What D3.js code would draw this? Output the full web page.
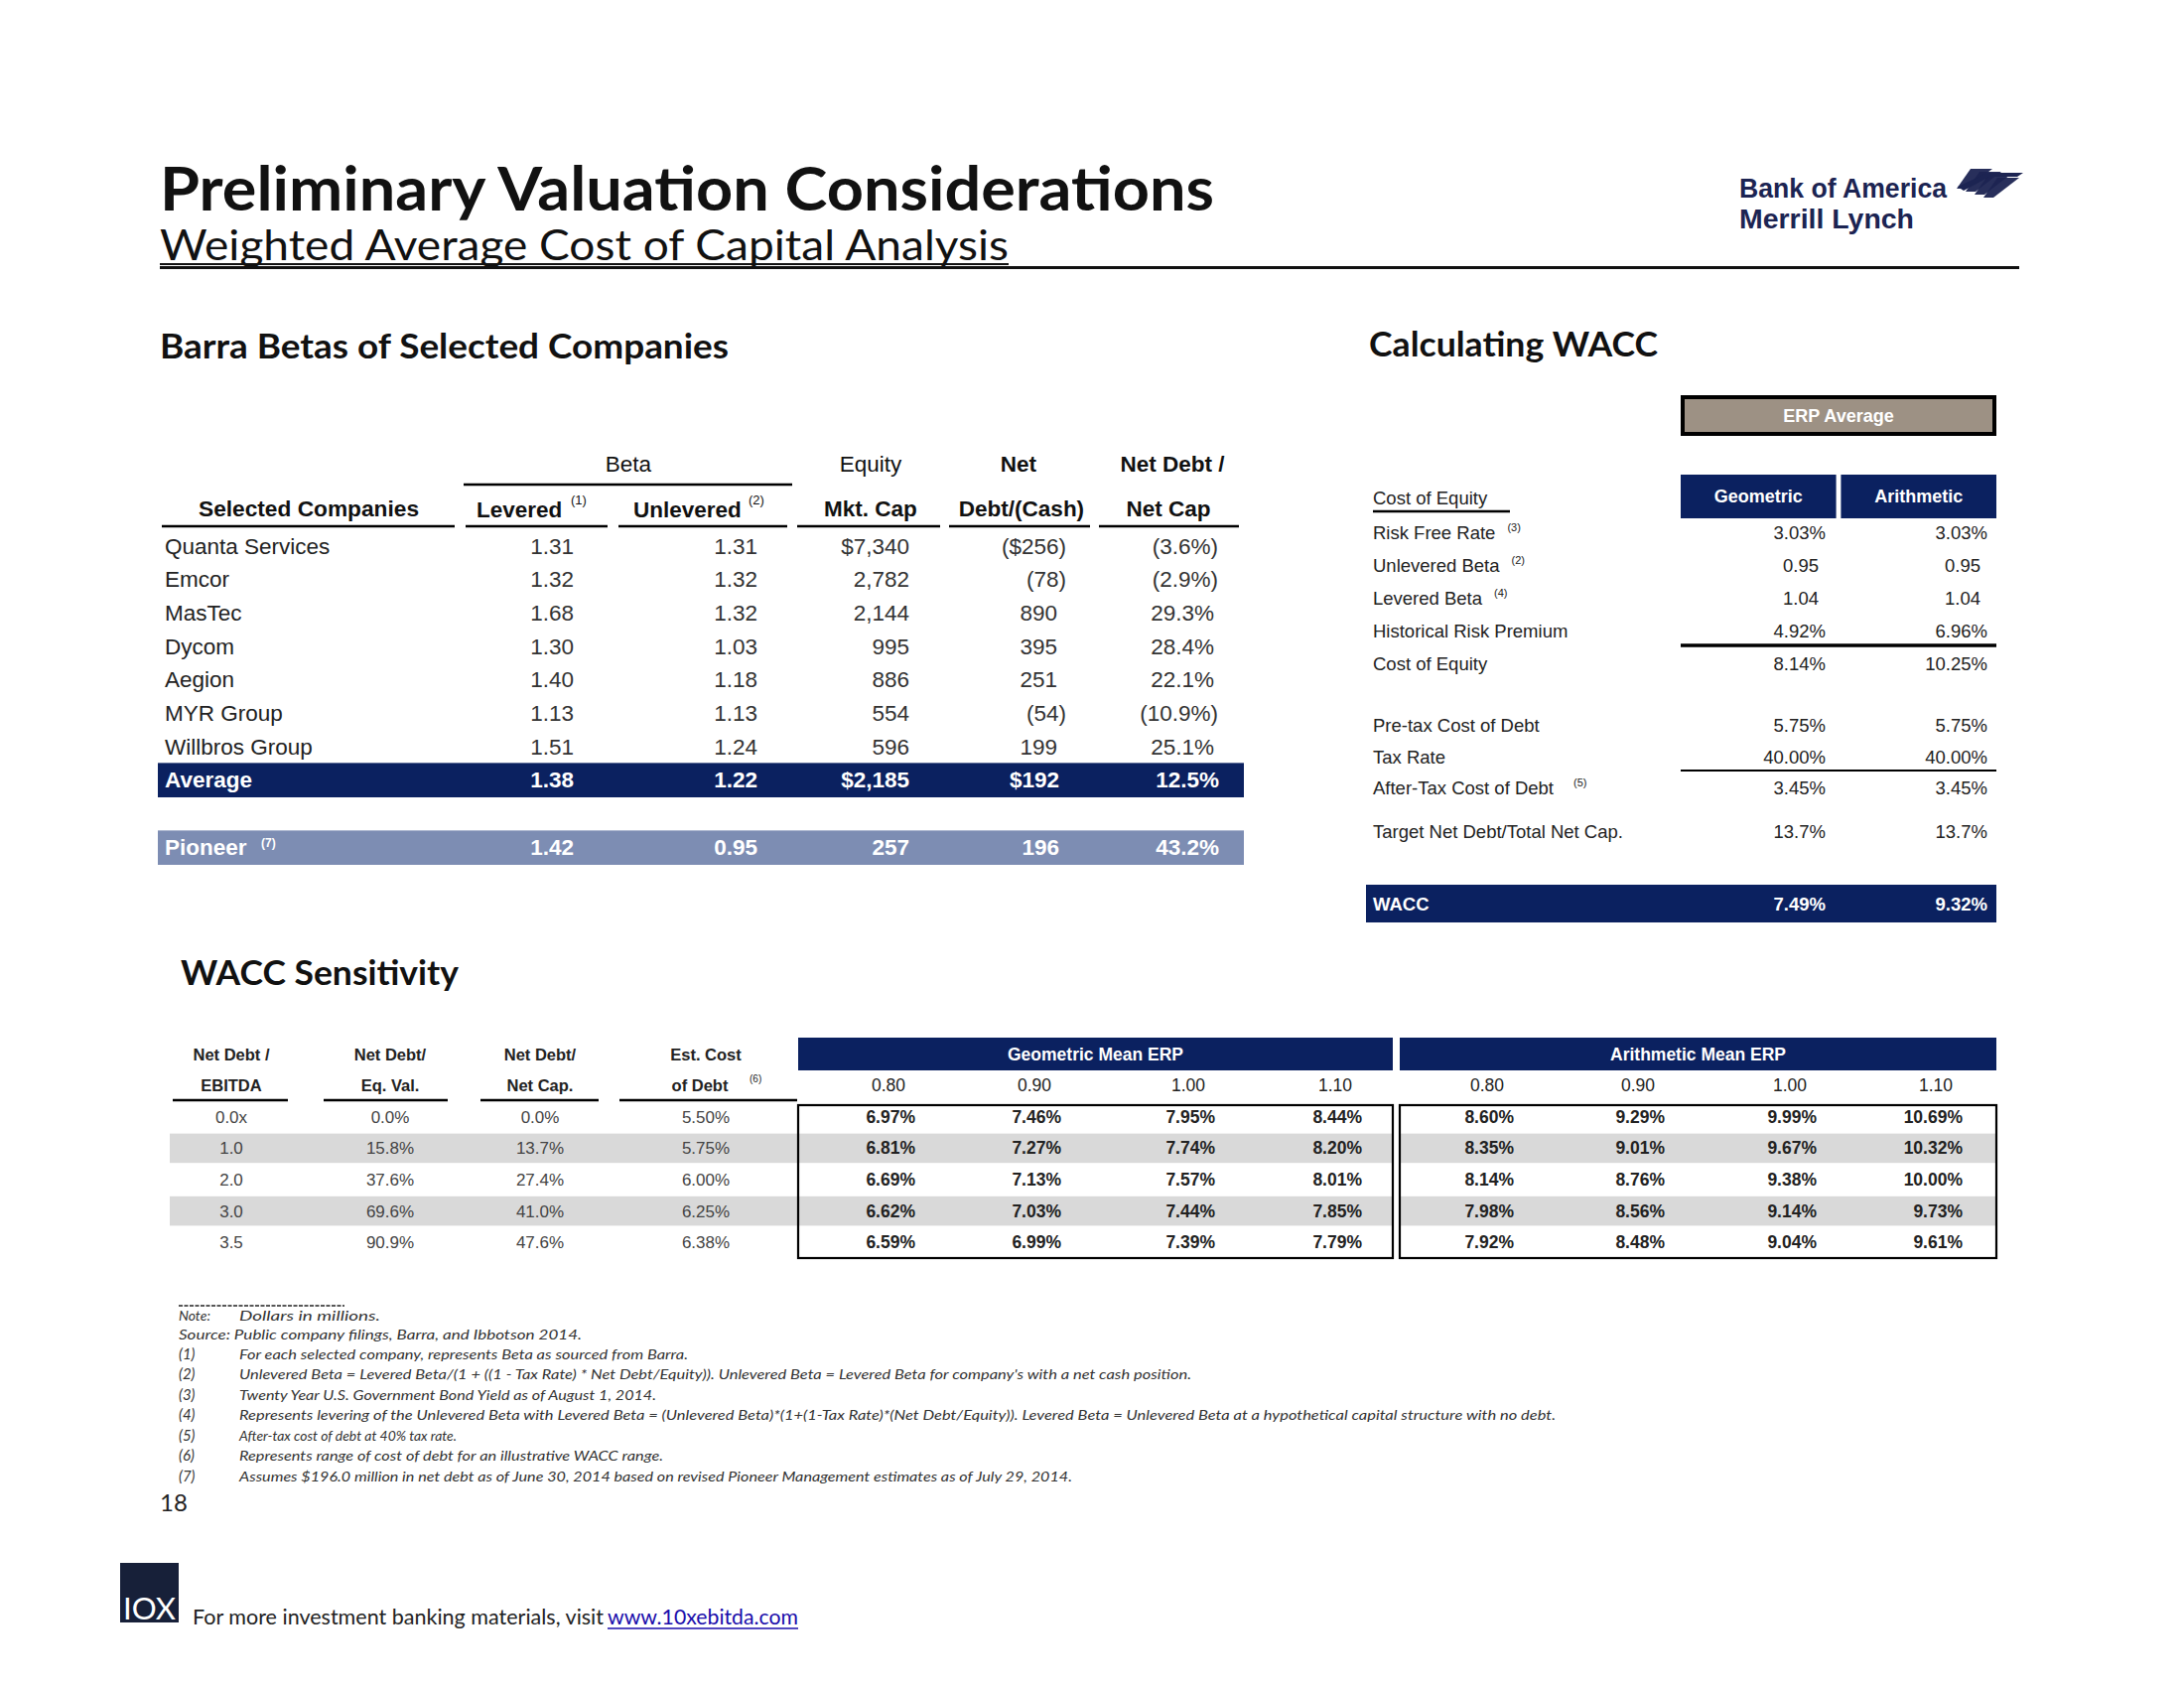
<!DOCTYPE html>
<html><head><meta charset="utf-8">
<script src="https://cdn.jsdelivr.net/npm/d3@7"></script>
<style>body{margin:0;background:#fff} svg{display:block}</style>
</head><body><svg id="c" width="2200" height="1700"></svg>
<script>
// ---------------- DATA ----------------
const companies = ["Quanta Services","Emcor","MasTec","Dycom","Aegion","MYR Group","Willbros Group"];
const leveredBeta = [1.31,1.32,1.68,1.30,1.40,1.13,1.51];
const unleveredBeta = [1.31,1.32,1.32,1.03,1.18,1.13,1.24];
const mktCap = [7340,2782,2144,995,886,554,596];
const netDebt = [-256,-78,890,395,251,-54,199];
const netDebtCap = [-3.6,-2.9,29.3,28.4,22.1,-10.9,25.1];
const averageRow = [1.38,1.22,2185,192,12.5];
const pioneerRow = [1.42,0.95,257,196,43.2];
const barraCols = ["levered","unlevered","mktCap","netDebt","netDebtCap"];

const waccLabels = ["Risk Free Rate","Unlevered Beta","Levered Beta","Historical Risk Premium","Cost of Equity","Pre-tax Cost of Debt","Tax Rate","After-Tax Cost of Debt","Target Net Debt/Total Net Cap."];
const waccNotes = ["(3)","(2)","(4)","","","","","(5)",""];
const geometricVals = [3.03,0.95,1.04,4.92,8.14,5.75,40.00,3.45,13.7];
const arithmeticVals = [3.03,0.95,1.04,6.96,10.25,5.75,40.00,3.45,13.7];
const waccFormats = ["pct2","beta","beta","pct2","pct2","pct2","pct2","pct2","pct1"];
const waccResult = [7.49,9.32];
const erpTypes = ["Geometric","Arithmetic"];

const ndEbitda = [0.0,1.0,2.0,3.0,3.5];
const ndEqVal = [0.0,15.8,37.6,69.6,90.9];
const ndNetCap = [0.0,13.7,27.4,41.0,47.6];
const costOfDebt = [5.50,5.75,6.00,6.25,6.38];
const betaSteps = [0.80,0.90,1.00,1.10];
const geoWacc = [[6.97,7.46,7.95,8.44],[6.81,7.27,7.74,8.20],[6.69,7.13,7.57,8.01],[6.62,7.03,7.44,7.85],[6.59,6.99,7.39,7.79]];
const ariWacc = [[8.60,9.29,9.99,10.69],[8.35,9.01,9.67,10.32],[8.14,8.76,9.38,10.00],[7.98,8.56,9.14,9.73],[7.92,8.48,9.04,9.61]];

const footnoteMarks = ["(1)","(2)","(3)","(4)","(5)","(6)","(7)"];
const footnotes = [
 "For each selected company, represents Beta as sourced from Barra.",
 "Unlevered Beta = Levered Beta/(1 + ((1 - Tax Rate) * Net Debt/Equity)).  Unlevered Beta = Levered Beta for company's with a net cash position.",
 "Twenty Year U.S. Government Bond Yield as of August 1, 2014.",
 "Represents levering of the Unlevered Beta with Levered Beta = (Unlevered Beta)*(1+(1-Tax Rate)*(Net Debt/Equity)).  Levered Beta = Unlevered Beta at a hypothetical capital structure with no debt.",
 "After-tax cost of debt at 40% tax rate.",
 "Represents range of cost of debt for an illustrative WACC range.",
 "Assumes $196.0 million in net debt as of June 30, 2014 based on revised Pioneer Management estimates as of July 29, 2014."
];

// ---------------- STYLE / LAYOUT ----------------
const NAVY = "#0b2160", SLATE = "#7d8db3", TAUPE = "#9d9184", GRAY = "#d9d9d9";
const ARIAL = "'Liberation Sans', Arial, sans-serif";
const CAL = "Lato, 'Open Sans', sans-serif";
const svg = d3.select("#c");

function txt(x, y, s, o = {}) {
  const t = svg.append("text").attr("x", x).attr("y", y).text(s)
    .attr("font-family", o.ff || ARIAL).attr("font-size", o.fs || 23)
    .attr("fill", o.fill || "#222").attr("font-weight", o.fw || 400)
    .attr("text-anchor", o.anchor || "start");
  if (o.it) t.attr("font-style", "italic");
  if (o.len) t.attr("textLength", o.len).attr("lengthAdjust", "spacingAndGlyphs");
  if (o.ls) t.attr("letter-spacing", o.ls);
  return t;
}
function line(x1, y1, x2, y2, w, c = "#000") {
  svg.append("line").attr("x1", x1).attr("y1", y1).attr("x2", x2).attr("y2", y2)
    .attr("stroke", c).attr("stroke-width", w);
}
function rect(x, y, w, h, fill, stroke, sw) {
  const r = svg.append("rect").attr("x", x).attr("y", y).attr("width", w).attr("height", h).attr("fill", fill);
  if (stroke) r.attr("stroke", stroke).attr("stroke-width", sw);
  return r;
}

// ---------------- HEADER ----------------
txt(161, 212, "Preliminary Valuation Considerations", {ff: CAL, fs: 62, fw: 700, fill: "#111", len: 1062});
txt(161, 262, "Weighted Average Cost of Capital Analysis", {ff: CAL, fs: 42, fill: "#111", len: 855});
line(161, 266, 1016, 266, 2, "#111");
line(161, 269.5, 2034, 269.5, 3, "#111");

// Bank of America logo
txt(1752, 199, "Bank of America", {fs: 27, fw: 700, fill: "#1c2452", len: 209});
txt(1752, 230, "Merrill Lynch", {fs: 27, fw: 700, fill: "#1c2452", len: 176});
const flag = svg.append("g").attr("fill", "#1c2452");
[0, 1, 2, 3].forEach(i => {
  const x0 = 1985 + i * 9, y0 = 170 + i * 3;
  flag.append("path").attr("d", `M${x0},${y0} l22,0 l-26,20 l-10,0 z`).attr("opacity", 0.95);
});
flag.append("path").attr("d", "M1972,188 l30,-14 l36,0 l-6,4 l-28,0 l-26,14 z");

// ---------------- BARRA BETAS ----------------
txt(161, 361, "Barra Betas of Selected Companies", {ff: CAL, fs: 35, fw: 700, fill: "#111", len: 573});

const colRight = d3.scaleOrdinal().domain(barraCols).range([578, 763, 916, 1065, 1223]);
const rowY = d3.scaleBand().domain([...companies, "Average"]).range([533, 802]);
const HB = 22.5;
// headers
txt(633, 475, "Beta", {fs: HB, fw: 400, fill: "#111", anchor: "middle"});
line(467, 488, 798, 488, 2.5);
txt(877, 475, "Equity", {fs: HB, fill: "#111", anchor: "middle"});
txt(1026, 475, "Net", {fs: HB, fw: 700, fill: "#111", anchor: "middle"});
txt(1181, 475, "Net Debt /", {fs: HB, fw: 700, fill: "#111", anchor: "middle"});
txt(311, 520, "Selected Companies", {fs: HB, fw: 700, fill: "#111", anchor: "middle", len: 222});
txt(480, 521, "Levered", {fs: HB, fw: 700, fill: "#111"});
txt(575, 508, "(1)", {fs: 13, fill: "#111"});
txt(638, 521, "Unlevered", {fs: HB, fw: 700, fill: "#111"});
txt(754, 508, "(2)", {fs: 13, fill: "#111"});
txt(877, 520, "Mkt. Cap", {fs: HB, fw: 700, fill: "#111", anchor: "middle"});
txt(1029, 520, "Debt/(Cash)", {fs: HB, fw: 700, fill: "#111", anchor: "middle"});
txt(1177, 520, "Net Cap", {fs: HB, fw: 700, fill: "#111", anchor: "middle"});
[[163, 458], [469, 612], [623, 793], [803, 947], [956, 1098], [1107, 1248]].forEach(s => line(s[0], 530, s[1], 530, 2.5));

const f2 = d3.format(".2f"), fc = d3.format(",");
function fmtCap(v, dollar) { return (dollar ? "$" : "") + fc(v); }
function fmtDebt(v, dollar) { return v < 0 ? "(" + (dollar ? "$" : "") + fc(-v) + ")" : (dollar ? "$" : "") + fc(v); }
function fmtPct1(v) { return v < 0 ? "(" + d3.format(".1f")(-v) + "%)" : d3.format(".1f")(v) + "%"; }

// company rows
companies.forEach((c, i) => {
  const cy = rowY(c) + rowY.bandwidth() / 2 + 8;
  txt(166, cy, c, {fs: 22.5, fill: "#222"});
  txt(colRight("levered"), cy, f2(leveredBeta[i]), {fs: 22.5, anchor: "end", fill: "#333"});
  txt(colRight("unlevered"), cy, f2(unleveredBeta[i]), {fs: 22.5, anchor: "end", fill: "#333"});
  txt(colRight("mktCap"), cy, fmtCap(mktCap[i], i === 0), {fs: 22.5, anchor: "end", fill: "#333"});
  txt(colRight("netDebt") + (netDebt[i] < 0 ? 9 : 0), cy, fmtDebt(netDebt[i], i === 0), {fs: 22.5, anchor: "end", fill: "#333"});
  txt(colRight("netDebtCap") + (netDebtCap[i] < 0 ? 4 : 0), cy, fmtPct1(netDebtCap[i]), {fs: 22.5, anchor: "end", fill: "#333"});
});
// Average bar
const avgY = rowY("Average");
rect(159, avgY, 1094, rowY.bandwidth() + 1, NAVY);
const ay = avgY + rowY.bandwidth() / 2 + 8;
txt(166, ay, "Average", {fs: 22.5, fw: 700, fill: "#fff"});
txt(colRight("levered"), ay, f2(averageRow[0]), {fs: 22.5, fw: 700, fill: "#fff", anchor: "end"});
txt(colRight("unlevered"), ay, f2(averageRow[1]), {fs: 22.5, fw: 700, fill: "#fff", anchor: "end"});
txt(colRight("mktCap"), ay, fmtCap(averageRow[2], true), {fs: 22.5, fw: 700, fill: "#fff", anchor: "end"});
txt(colRight("netDebt") + 2, ay, fmtDebt(averageRow[3], true), {fs: 22.5, fw: 700, fill: "#fff", anchor: "end"});
txt(colRight("netDebtCap") + 5, ay, fmtPct1(averageRow[4]), {fs: 22.5, fw: 700, fill: "#fff", anchor: "end"});
// Pioneer bar
const pY = avgY + 68;
rect(159, pY, 1094, rowY.bandwidth() + 1, SLATE);
const py = pY + rowY.bandwidth() / 2 + 8;
txt(166, py, "Pioneer", {fs: 22.5, fw: 700, fill: "#fff"});
txt(263, py - 8, "(7)", {fs: 12, fw: 700, fill: "#fff"});
txt(colRight("levered"), py, f2(pioneerRow[0]), {fs: 22.5, fw: 700, fill: "#fff", anchor: "end"});
txt(colRight("unlevered"), py, f2(pioneerRow[1]), {fs: 22.5, fw: 700, fill: "#fff", anchor: "end"});
txt(colRight("mktCap"), py, fmtCap(pioneerRow[2], false), {fs: 22.5, fw: 700, fill: "#fff", anchor: "end"});
txt(colRight("netDebt") + 2, py, fmtDebt(pioneerRow[3], false), {fs: 22.5, fw: 700, fill: "#fff", anchor: "end"});
txt(colRight("netDebtCap") + 5, py, fmtPct1(pioneerRow[4]), {fs: 22.5, fw: 700, fill: "#fff", anchor: "end"});

// ---------------- CALCULATING WACC ----------------
txt(1379, 359, "Calculating WACC", {ff: CAL, fs: 35, fw: 700, fill: "#111", len: 291});
rect(1695, 400, 314, 37, TAUPE, "#000", 4);
txt(1852, 425, "ERP Average", {fs: 18, fw: 700, fill: "#fff", anchor: "middle"});
const erpX = d3.scaleBand().domain(erpTypes).range([1693, 2011]).paddingInner(0.03);
erpTypes.forEach(t => {
  rect(erpX(t), 478, erpX.bandwidth(), 44, NAVY);
  txt(erpX(t) + erpX.bandwidth() / 2, 506, t, {fs: 18, fw: 700, fill: "#fff", anchor: "middle"});
});
txt(1383, 508, "Cost of Equity", {fs: 18.5, fill: "#222"});
line(1383, 515, 1521, 515, 2.5);

const waccSlot = [0, 1, 2, 3, 4, 5.9, 6.85, 7.8, 9.15];
const waccY = d3.scaleLinear().domain([0, 1]).range([536, 569]);
const valRight = d3.scaleOrdinal().domain(erpTypes).range([1839, 1999]);
function fmtW(v, f) { return f === "beta" ? f2(v) : f === "pct1" ? d3.format(".1f")(v) + "%" : f2(v) + "%"; }
waccLabels.forEach((lab, i) => {
  const y = waccY(waccSlot[i]) + 6.5;
  const t = txt(1383, y, lab, {fs: 18.5, fill: "#222"});
  if (waccNotes[i]) {
    const w = t.node().getComputedTextLength();
    txt(1383 + w + (i === 7 ? 20 : 12), y - 8, waccNotes[i], {fs: 11, fill: "#222"});
  }
  const off = waccFormats[i] === "beta" ? 7 : 0;
  txt(valRight("Geometric") - off, y, fmtW(geometricVals[i], waccFormats[i]), {fs: 18.5, fill: "#222", anchor: "end"});
  txt(valRight("Arithmetic") - off + 3, y, fmtW(arithmeticVals[i], waccFormats[i]), {fs: 18.5, fill: "#222", anchor: "end"});
});
line(1693, 650, 2011, 650, 3.5);
line(1693, 776, 2011, 776, 2);
rect(1376, 891, 635, 38, NAVY);
txt(1383, 917, "WACC", {fs: 18.5, fw: 700, fill: "#fff"});
erpTypes.forEach((t, i) => txt(valRight(t) + (i ? 3 : 0), 917, f2(waccResult[i]) + "%", {fs: 18.5, fw: 700, fill: "#fff", anchor: "end"}));

// ---------------- WACC SENSITIVITY ----------------
txt(182, 992, "WACC Sensitivity", {ff: CAL, fs: 35, fw: 700, fill: "#111", len: 280});
const sRow = d3.scaleBand().domain(d3.range(ndEbitda.length)).range([1109, 1267]);
// gray bands
const sectionSpans = [[171, 803], [804, 1403], [1410, 2011]];
[1, 3].forEach(r => sectionSpans.forEach(s => rect(s[0], sRow(r) + 1, s[1] - s[0], sRow.bandwidth() - 2, GRAY)));

const leftCols = d3.scaleOrdinal().domain([0, 1, 2, 3]).range([233, 393, 544, 711]);
const hdr1 = ["Net Debt /", "Net Debt/", "Net Debt/", "Est. Cost"];
const hdr2 = ["EBITDA", "Eq. Val.", "Net Cap.", "of Debt"];
hdr1.forEach((h, i) => txt(leftCols(i), 1068, h, {fs: 16.5, fw: 700, fill: "#222", anchor: "middle"}));
hdr2.forEach((h, i) => txt(leftCols(i) - (i === 3 ? 6 : 0), 1099, h, {fs: 16.5, fw: 700, fill: "#222", anchor: "middle"}));
txt(755, 1090, "(6)", {fs: 10, fill: "#222"});
[[174, 290], [326, 451], [484, 603], [624, 803]].forEach(s => line(s[0], 1108, s[1], 1108, 2.5));

const leftData = [ndEbitda.map((v, i) => d3.format(".1f")(v) + (i === 0 ? "x" : "")),
  ndEqVal.map(v => d3.format(".1f")(v) + "%"), ndNetCap.map(v => d3.format(".1f")(v) + "%"),
  costOfDebt.map(v => f2(v) + "%")];
leftData.forEach((col, c) => col.forEach((s, r) => {
  txt(leftCols(c), sRow(r) + sRow.bandwidth() / 2 + 6, s, {fs: 17, fill: "#444", anchor: "middle"});
}));

// ERP grids
const grids = [{name: "Geometric Mean ERP", vals: geoWacc, span: [804, 1403], centers: [895, 1042, 1197, 1345]},
               {name: "Arithmetic Mean ERP", vals: ariWacc, span: [1410, 2011], centers: [1498, 1650, 1803, 1950]}];
grids.forEach(g => {
  const bx = d3.scaleOrdinal().domain(betaSteps).range(g.centers);
  rect(g.span[0], 1045, g.span[1] - g.span[0], 33, NAVY);
  txt((g.span[0] + g.span[1]) / 2, 1068, g.name, {fs: 17.5, fw: 700, fill: "#fff", anchor: "middle"});
  betaSteps.forEach(b => txt(bx(b), 1099, f2(b), {fs: 17.5, fill: "#222", anchor: "middle"}));
  rect(g.span[0], 1113, g.span[1] - g.span[0], 154, "none", "#000", 2.2);
  g.vals.forEach((row, r) => row.forEach((v, c) => {
    txt(bx(betaSteps[c]) + 27, sRow(r) + sRow.bandwidth() / 2 + 6, f2(v) + "%", {fs: 17.5, fw: 700, fill: "#222", anchor: "end"});
  }));
});

// ---------------- FOOTNOTES ----------------
svg.append("line").attr("x1", 180).attr("y1", 1315).attr("x2", 347).attr("y2", 1315)
  .attr("stroke", "#222").attr("stroke-width", 1.5).attr("stroke-dasharray", "4,1.5");
const FN = {ff: CAL, fs: 14, it: true, fill: "#333"};
txt(180, 1330, "Note:", FN);
txt(241, 1330, "Dollars in millions.", {...FN, len: 142});
txt(180, 1349, "Source: Public company filings, Barra, and Ibbotson 2014.", {...FN, len: 406});
const fnY = d3.scaleBand().domain(footnoteMarks).range([1356, 1499]);
const fnLen = [452, 959, 420, 1326, 219, 427, 839];
footnoteMarks.forEach((m, i) => {
  const y = fnY(m) + 13;
  txt(180, y, m, {...FN, fs: 15});
  txt(241, y, footnotes[i], {...FN, len: fnLen[i]});
});
txt(161, 1522, "18", {ff: CAL, fs: 24, fill: "#222"});

// ---------------- FOOTER ----------------
rect(121, 1574, 59, 60, "#172039");
txt(124, 1631, "IOX", {ff: CAL, fs: 30, fill: "#fff", len: 53});
txt(194, 1636, "For more investment banking materials, visit", {ff: CAL, fs: 21, fill: "#222", len: 414});
txt(612, 1636, "www.10xebitda.com", {ff: CAL, fs: 21, fill: "#1a0dab", len: 192});
line(612, 1640, 804, 1640, 1.5, "#1a0dab");
</script></body></html>
